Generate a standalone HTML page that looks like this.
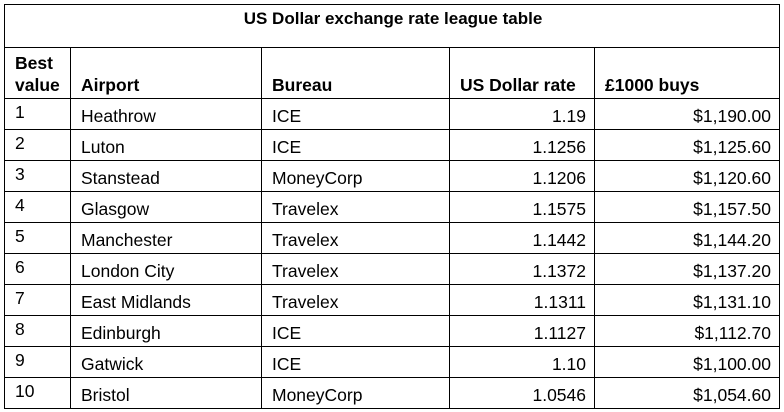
<!DOCTYPE html>
<html><head><meta charset="utf-8"><style>
body{margin:0;background:#fff;width:784px;height:412px;overflow:hidden;font-family:"Liberation Sans",sans-serif;color:#000}
table{position:absolute;left:4px;top:4px;border-collapse:collapse;table-layout:fixed;font-size:17.5px}
td{border:1px solid #000;padding:0 8px 0 10px;height:30px;vertical-align:bottom;padding-bottom:2px;box-sizing:border-box;white-space:nowrap;line-height:22px}
tr.row td{height:31px}
td.r{text-align:right}
td.n{vertical-align:top;padding-top:2px}
.title td{height:43px;text-align:center;font-weight:bold;vertical-align:top;padding-top:3px;font-size:17px}
.head td{height:51px;font-weight:bold;line-height:22px}
</style></head><body>
<table>
<colgroup><col style="width:66px"><col style="width:191px"><col style="width:188px"><col style="width:145px"><col style="width:185px"></colgroup>
<tr class="title"><td colspan="5">US Dollar exchange rate league table</td></tr>
<tr class="head">
<td>Best<br>value</td>
<td>Airport</td>
<td>Bureau</td>
<td>US Dollar rate</td>
<td>£1000 buys</td></tr>
<tr class="row"><td class="n">1</td><td>Heathrow</td><td>ICE</td><td class="r">1.19</td><td class="r">$1,190.00</td></tr>
<tr class="row"><td class="n">2</td><td>Luton</td><td>ICE</td><td class="r">1.1256</td><td class="r">$1,125.60</td></tr>
<tr class="row"><td class="n">3</td><td>Stanstead</td><td>MoneyCorp</td><td class="r">1.1206</td><td class="r">$1,120.60</td></tr>
<tr class="row"><td class="n">4</td><td>Glasgow</td><td>Travelex</td><td class="r">1.1575</td><td class="r">$1,157.50</td></tr>
<tr class="row"><td class="n">5</td><td>Manchester</td><td>Travelex</td><td class="r">1.1442</td><td class="r">$1,144.20</td></tr>
<tr class="row"><td class="n">6</td><td>London City</td><td>Travelex</td><td class="r">1.1372</td><td class="r">$1,137.20</td></tr>
<tr class="row"><td class="n">7</td><td>East Midlands</td><td>Travelex</td><td class="r">1.1311</td><td class="r">$1,131.10</td></tr>
<tr class="row"><td class="n">8</td><td>Edinburgh</td><td>ICE</td><td class="r">1.1127</td><td class="r">$1,112.70</td></tr>
<tr class="row"><td class="n">9</td><td>Gatwick</td><td>ICE</td><td class="r">1.10</td><td class="r">$1,100.00</td></tr>
<tr class="row"><td class="n">10</td><td>Bristol</td><td>MoneyCorp</td><td class="r">1.0546</td><td class="r">$1,054.60</td></tr>
</table>
</body></html>
